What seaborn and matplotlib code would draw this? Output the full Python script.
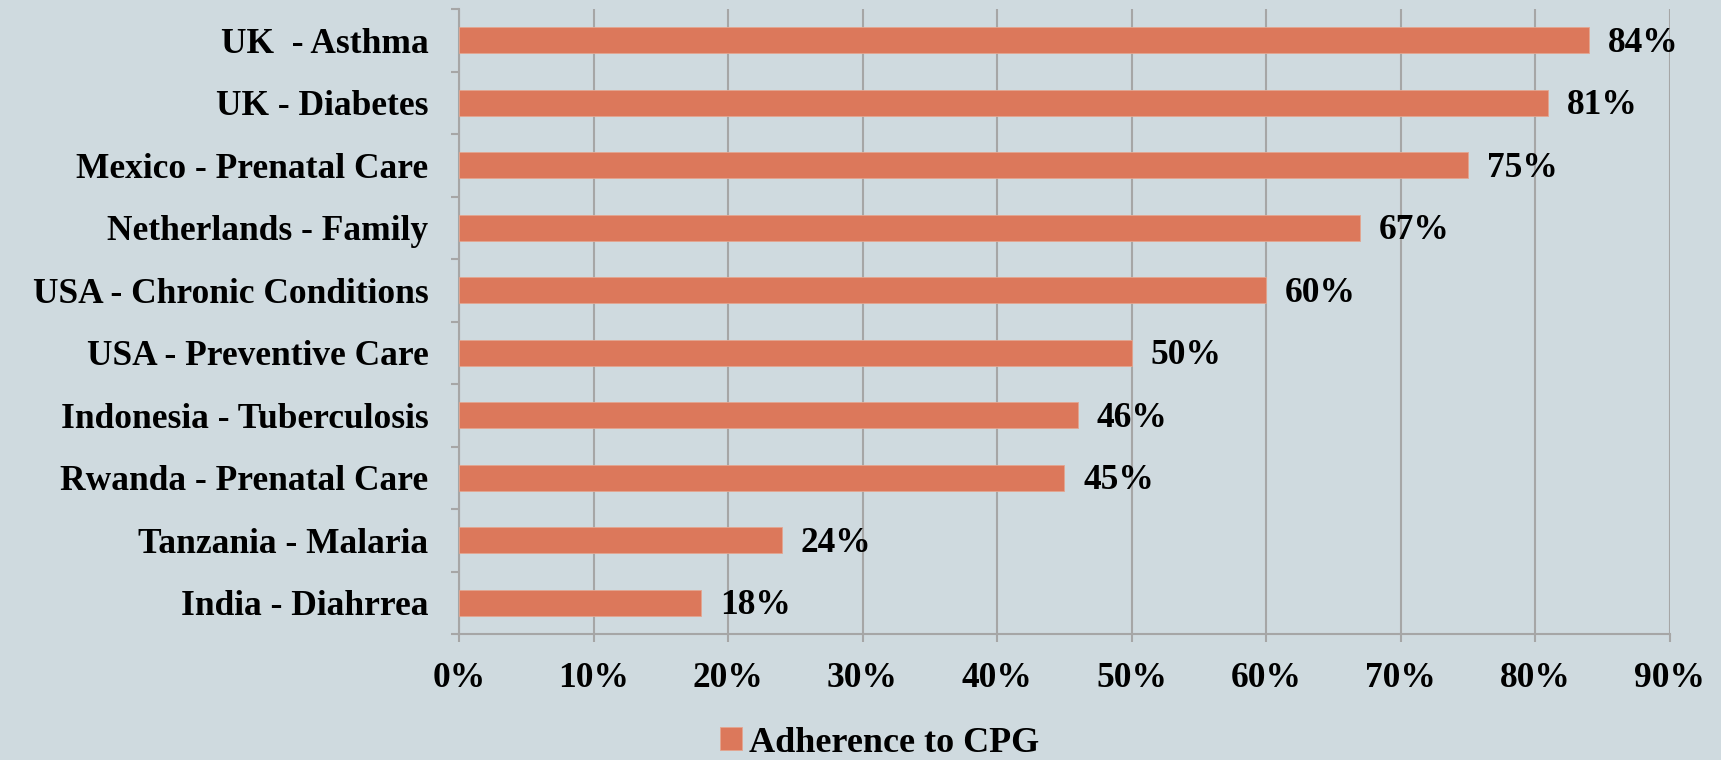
#Horizontal bar chart of adherence to clinical practice guidelines by country/condition
import seaborn as sns
import matplotlib.pyplot as plt
import numpy as np
import pandas as pd

categories = ["UK  - Asthma", "UK - Diabetes", "Mexico - Prenatal Care",
              "Netherlands - Family", "USA - Chronic Conditions",
              "USA - Preventive Care", "Indonesia - Tuberculosis",
              "Rwanda - Prenatal Care", "Tanzania - Malaria", "India - Diahrrea"]
adherence = [84, 81, 75, 67, 60, 50, 46, 45, 24, 18]
x_ticks = [0, 10, 20, 30, 40, 50, 60, 70, 80, 90]
series_name = "Adherence to CPG"

bg = '#cfdadf'
bar_color = '#dc785b'
grid_color = '#a6a6a6'

sns.set_style("white")
plt.rcParams['font.family'] = ['Liberation Serif', 'DejaVu Serif']
plt.rcParams['font.weight'] = 'bold'
plt.rcParams['text.color'] = 'black'
plt.rcParams['xtick.color'] = 'black'
plt.rcParams['ytick.color'] = 'black'

df = pd.DataFrame({'category': categories, 'value': adherence})

f = plt.figure(figsize=(17.21, 7.6), dpi=100, facecolor=bg)
ax = f.add_axes([459 / 1721, 1 - 634 / 760, (1669.5 - 459) / 1721, (634 - 9) / 760])
ax.set_facecolor(bg)

sns.barplot(data=df, x='value', y='category', orient='h', color=bar_color,
            width=0.42, saturation=1, ax=ax, label=series_name, zorder=3,
            edgecolor='#e4a58f', linewidth=0.6)

#Axis scales and grid
ax.set_xlim(0, 90)
ax.set_ylim(9.5, -0.5)
ax.set_xticks(x_ticks)
ax.set_xticklabels([f"{t}%" for t in x_ticks], fontsize=25.5, fontweight='bold')
ax.set_yticks(np.arange(len(categories)))
ax.set_yticklabels(categories, fontsize=25.5, fontweight='bold')
ax.set_yticks(np.arange(-0.5, len(categories)), minor=True)
ax.tick_params(axis='y', which='both', left=True)
ax.tick_params(axis='x', which='both', bottom=True)
ax.tick_params(axis='y', which='major', length=0, pad=22)
ax.tick_params(axis='y', which='minor', length=6, color=grid_color, width=1.5)
ax.tick_params(axis='x', which='major', length=6, color=grid_color, width=1.5, pad=14)
ax.xaxis.grid(True, color=grid_color, linewidth=1.5, zorder=0)
ax.set_xlabel("")
ax.set_ylabel("")
sns.despine(ax=ax, top=True, right=True)
for s in ['left', 'bottom']:
    ax.spines[s].set_color(grid_color)
    ax.spines[s].set_linewidth(1.5)

#Value labels
for i, v in enumerate(adherence):
    ax.text(v + 1.4, i + 0.05, f"{v}%", va='center', ha='left',
            fontsize=25.5, fontweight='bold', color='black')

#Legend at the bottom
if ax.get_legend():
    ax.get_legend().remove()
handles, labels = ax.get_legend_handles_labels()
f.legend(handles, labels, loc='center', bbox_to_anchor=(880 / 1721, 1 - 743 / 760),
         frameon=False, prop={'size': 26, 'weight': 'bold'},
         handlelength=0.6, handleheight=0.6, handletextpad=0.2, labelcolor='black')

f.savefig("out.png", dpi=100, facecolor=bg)
